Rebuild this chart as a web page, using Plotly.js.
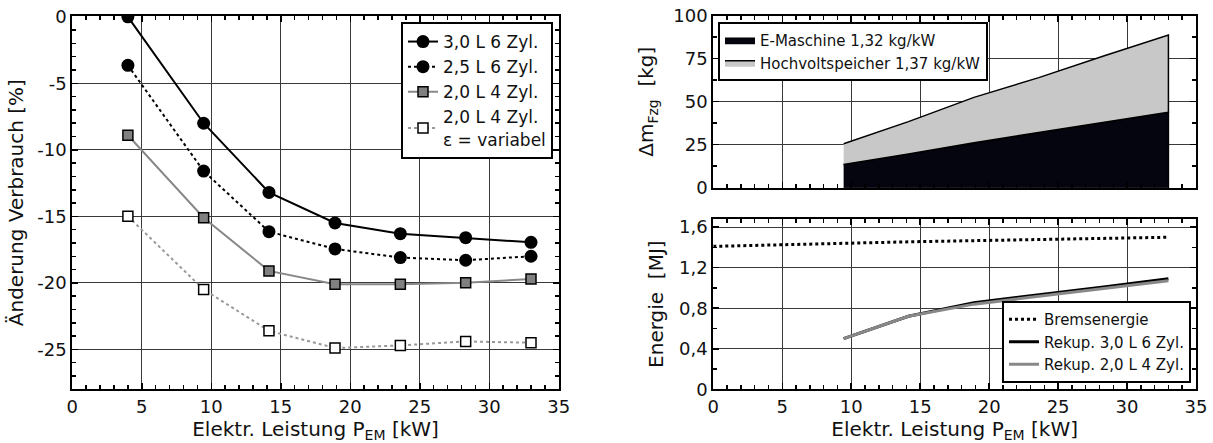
<!DOCTYPE html>
<html>
<head>
<meta charset="utf-8">
<script src="https://cdn.plot.ly/plotly-3.0.1.min.js"></script>
<style>
  html, body { margin: 0; padding: 0; background: #fff; }
  #chart { width: 1213px; height: 443px; }
</style>
</head>
<body>
<div id="chart"></div>
<script>
// ---------- data ----------
const power = [4.0, 9.45, 14.15, 18.9, 23.6, 28.3, 33.0];
const verbrauch30L6 = [0, -8.0, -13.2, -15.5, -16.3, -16.6, -16.95];
const verbrauch25L6 = [-3.65, -11.6, -16.15, -17.45, -18.1, -18.3, -18.0];
const verbrauch20L4 = [-8.9, -15.1, -19.1, -20.1, -20.1, -20.0, -19.7];
const verbrauch20L4var = [-15.0, -20.5, -23.6, -24.9, -24.7, -24.4, -24.5];

const powerMass = [9.45, 14.15, 18.9, 23.6, 28.3, 33.0];
const massEMaschine = [13.5, 19.6, 26.2, 32.0, 37.9, 43.8];
const massTotal = [25.6, 38.4, 52.5, 64.0, 76.6, 88.8];

const powerEnergy = [0, 4.0, 9.45, 14.15, 18.9, 23.6, 28.3, 33.0];
const bremsEnergie = [1.41, 1.425, 1.44, 1.455, 1.465, 1.478, 1.49, 1.50];
const rekup30L6 = [0.50, 0.72, 0.855, 0.93, 1.01, 1.09];
const rekup20L4 = [0.50, 0.72, 0.84, 0.915, 0.995, 1.07];

const leftYTickVals = [0, -5, -10, -15, -20, -25];
const leftYTickText = ['0', '-5', '-10', '-15', '-20', '-25'];

const seriesNames = ['3,0 L 6 Zyl.', '2,5 L 6 Zyl.', '2,0 L 4 Zyl.', '2,0 L 4 Zyl.<br>ε = variabel'];
const massNames = ['E-Maschine 1,32 kg/kW', 'Hochvoltspeicher 1,37 kg/kW'];
const energyNames = ['Bremsenergie', 'Rekup. 3,0 L 6 Zyl.', 'Rekup. 2,0 L 4 Zyl.'];

// ---------- traces ----------
const traces = [];
traces.push({x: power, y: verbrauch30L6, name: seriesNames[0], xaxis: 'x', yaxis: 'y', legend: 'legend',
  mode: 'lines+markers', line: {color: '#000', width: 2},
  marker: {symbol: 'circle', size: 13, color: '#000'}});
traces.push({x: power, y: verbrauch25L6, name: seriesNames[1], xaxis: 'x', yaxis: 'y', legend: 'legend',
  mode: 'lines+markers', line: {color: '#000', width: 2, dash: 'dot'},
  marker: {symbol: 'circle', size: 13, color: '#000'}});
traces.push({x: power, y: verbrauch20L4, name: seriesNames[2], xaxis: 'x', yaxis: 'y', legend: 'legend',
  mode: 'lines+markers', line: {color: '#888', width: 2},
  marker: {symbol: 'square', size: 10, color: '#808080', line: {color: '#000', width: 1.5}}});
traces.push({x: power, y: verbrauch20L4var, name: seriesNames[3], xaxis: 'x', yaxis: 'y', legend: 'legend',
  mode: 'lines+markers', line: {color: '#999', width: 2, dash: 'dot'},
  marker: {symbol: 'square', size: 10, color: '#fff', line: {color: '#000', width: 1.5}}});

// stacked mass areas (polygons built from the arrays)
const emPolyX = powerMass.concat(powerMass.slice().reverse());
const emPolyY = massEMaschine.concat(powerMass.map(() => 0));
const hvPolyX = powerMass.concat(powerMass.slice().reverse());
const hvPolyY = massTotal.concat(massEMaschine.slice().reverse());
traces.push({x: emPolyX, y: emPolyY, name: massNames[0], xaxis: 'x2', yaxis: 'y2', legend: 'legend2',
  mode: 'lines', fill: 'toself', fillcolor: '#05050f', line: {color: '#000', width: 1.5}});
traces.push({x: hvPolyX, y: hvPolyY, name: massNames[1], xaxis: 'x2', yaxis: 'y2', legend: 'legend2',
  mode: 'lines', fill: 'toself', fillcolor: '#c8c8c8', line: {color: '#000', width: 1.5}});

traces.push({x: powerEnergy, y: bremsEnergie, name: energyNames[0], xaxis: 'x3', yaxis: 'y3', legend: 'legend3',
  mode: 'lines', line: {color: '#000', width: 3, dash: 'dot'}});
traces.push({x: powerMass, y: rekup30L6, name: energyNames[1], xaxis: 'x3', yaxis: 'y3', legend: 'legend3',
  mode: 'lines', line: {color: '#000', width: 3}});
traces.push({x: powerMass, y: rekup20L4, name: energyNames[2], xaxis: 'x3', yaxis: 'y3', legend: 'legend3',
  mode: 'lines', line: {color: '#888', width: 3}});

// ---------- layout ----------
const FONT = 'DejaVu Sans';
const W = 1213, H = 443;
const fx = p => p / W;
const fy = p => 1 - p / H;

function axisBase(extra) {
  return Object.assign({
    showline: true, linecolor: '#000', linewidth: 2, mirror: 'allticks',
    ticks: 'inside', ticklen: 6, tickwidth: 1.5, tickcolor: '#000',
    showgrid: true, gridcolor: '#3a3a3a', gridwidth: 1,
    zeroline: false, fixedrange: true,
    tickfont: {family: FONT, size: 18, color: '#111'},
  }, extra);
}

const layout = {
  width: W, height: H,
  margin: {l: 0, r: 0, t: 0, b: 0, pad: 0},
  paper_bgcolor: '#fff', plot_bgcolor: '#fff',
  separators: ',.',
  font: {family: FONT, color: '#111'},
  showlegend: true,
  hovermode: false,
  xaxis: axisBase({
    domain: [fx(72.3), fx(558.8)], range: [0, 35], dtick: 5, tick0: 0, anchor: 'y',
    minor: {dtick: 1, ticks: 'inside', ticklen: 4, tickcolor: '#000', showgrid: false},
    title: {text: 'Elektr. Leistung P<sub>EM</sub> [kW]', font: {family: FONT, size: 20, color: '#111'}, standoff: 2},
  }),
  yaxis: axisBase({
    domain: [fy(389.3), fy(16)], range: [-28, 0.06], anchor: 'x',
    tickmode: 'array', tickvals: leftYTickVals, ticktext: leftYTickText,
    minor: {dtick: 1, tick0: 0, ticks: 'inside', ticklen: 4, tickcolor: '#000', showgrid: false},
    title: {text: 'Änderung Verbrauch [%]', font: {family: FONT, size: 20, color: '#111'}, standoff: 8},
  }),
  xaxis2: axisBase({
    domain: [fx(713.3), fx(1196)], range: [0, 35], dtick: 5, tick0: 0, anchor: 'y2',
    showticklabels: false,
    minor: {dtick: 1, ticks: 'inside', ticklen: 4, tickcolor: '#000', showgrid: false},
  }),
  yaxis2: axisBase({
    domain: [fy(187.7), fy(15.7)], range: [0, 100], dtick: 25, tick0: 0, anchor: 'x2',
    minor: {dtick: 12.5, ticks: 'inside', ticklen: 4, tickcolor: '#000', showgrid: false},
    title: {text: 'Δm<sub>Fzg</sub>\u00a0\u00a0[kg]', font: {family: FONT, size: 20, color: '#111'}, standoff: 14},
  }),
  xaxis3: axisBase({
    domain: [fx(713.3), fx(1196)], range: [0, 35], dtick: 5, tick0: 0, anchor: 'y3',
    minor: {dtick: 1, ticks: 'inside', ticklen: 4, tickcolor: '#000', showgrid: false},
    title: {text: 'Elektr. Leistung P<sub>EM</sub> [kW]', font: {family: FONT, size: 20, color: '#111'}, standoff: 2},
  }),
  yaxis3: axisBase({
    domain: [fy(389.3), fy(219)], range: [0, 1.68], dtick: 0.4, tick0: 0, anchor: 'x3',
    minor: {dtick: 0.2, ticks: 'inside', ticklen: 4, tickcolor: '#000', showgrid: false},
    title: {text: 'Energie\u00a0\u00a0[MJ]', font: {family: FONT, size: 20, color: '#111'}, standoff: 10},
  }),
  legend: {
    x: fx(553), y: fy(22), xanchor: 'right', yanchor: 'top',
    bgcolor: '#fff', bordercolor: '#000', borderwidth: 2,
    font: {family: FONT, size: 17, color: '#111'},
    tracegroupgap: 0, itemwidth: 30,
  },
  legend2: {
    x: fx(718), y: fy(22), xanchor: 'left', yanchor: 'top',
    bgcolor: '#fff', bordercolor: '#000', borderwidth: 2,
    font: {family: FONT, size: 15, color: '#111'},
    tracegroupgap: 0, itemwidth: 30,
  },
  legend3: {
    x: fx(1191), y: fy(383), xanchor: 'right', yanchor: 'bottom',
    bgcolor: '#fff', bordercolor: '#000', borderwidth: 2,
    font: {family: FONT, size: 15, color: '#111'},
    tracegroupgap: 0, itemwidth: 30,
  },
};

Plotly.newPlot('chart', traces, layout, {staticPlot: true, displayModeBar: false});
</script>
</body>
</html>
